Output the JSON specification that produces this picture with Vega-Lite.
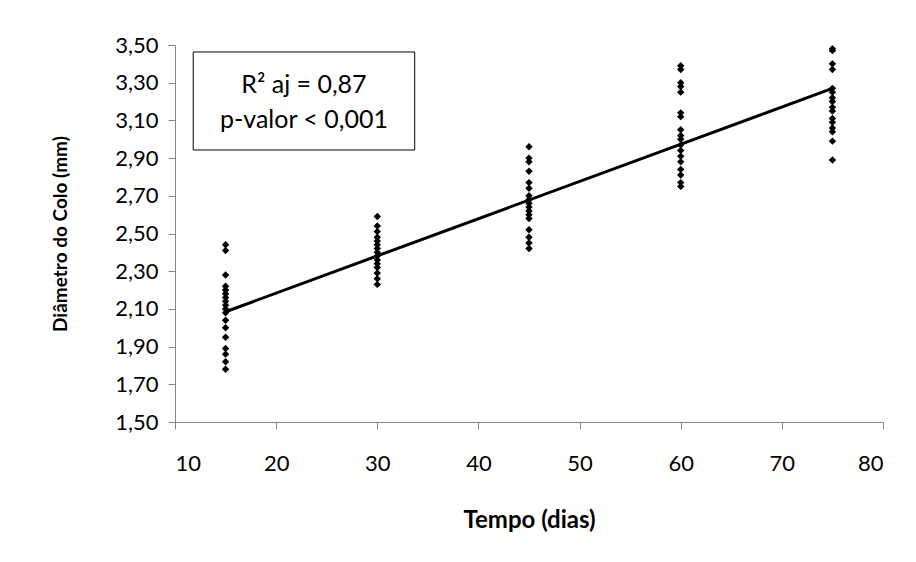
{
  "$schema": "https://vega.github.io/schema/vega-lite/v6.json",
  "width": 708,
  "height": 377,
  "autosize": {"type": "none"},
  "padding": {"left": 175, "top": 45, "right": 33, "bottom": 140},
  "background": "white",
  "config": {
    "view": {"stroke": null}
  },
  "datasets": {
    "pts": [
      {"dias": 15, "diam": 2.44}, {"dias": 15, "diam": 2.41}, {"dias": 15, "diam": 2.28}, {"dias": 15, "diam": 2.22},
      {"dias": 15, "diam": 2.20}, {"dias": 15, "diam": 2.18}, {"dias": 15, "diam": 2.16}, {"dias": 15, "diam": 2.14},
      {"dias": 15, "diam": 2.12}, {"dias": 15, "diam": 2.10}, {"dias": 15, "diam": 2.08}, {"dias": 15, "diam": 2.04},
      {"dias": 15, "diam": 2.00}, {"dias": 15, "diam": 1.95}, {"dias": 15, "diam": 1.89}, {"dias": 15, "diam": 1.86},
      {"dias": 15, "diam": 1.82}, {"dias": 15, "diam": 1.78},
      {"dias": 30, "diam": 2.59}, {"dias": 30, "diam": 2.54}, {"dias": 30, "diam": 2.51}, {"dias": 30, "diam": 2.48},
      {"dias": 30, "diam": 2.46}, {"dias": 30, "diam": 2.44}, {"dias": 30, "diam": 2.42}, {"dias": 30, "diam": 2.40},
      {"dias": 30, "diam": 2.38}, {"dias": 30, "diam": 2.36}, {"dias": 30, "diam": 2.34}, {"dias": 30, "diam": 2.32},
      {"dias": 30, "diam": 2.29}, {"dias": 30, "diam": 2.26}, {"dias": 30, "diam": 2.23},
      {"dias": 45, "diam": 2.96}, {"dias": 45, "diam": 2.90}, {"dias": 45, "diam": 2.88}, {"dias": 45, "diam": 2.83},
      {"dias": 45, "diam": 2.77}, {"dias": 45, "diam": 2.74}, {"dias": 45, "diam": 2.70}, {"dias": 45, "diam": 2.68},
      {"dias": 45, "diam": 2.66}, {"dias": 45, "diam": 2.64}, {"dias": 45, "diam": 2.62}, {"dias": 45, "diam": 2.60},
      {"dias": 45, "diam": 2.58}, {"dias": 45, "diam": 2.52}, {"dias": 45, "diam": 2.48}, {"dias": 45, "diam": 2.45},
      {"dias": 45, "diam": 2.42},
      {"dias": 60, "diam": 3.39}, {"dias": 60, "diam": 3.37}, {"dias": 60, "diam": 3.30}, {"dias": 60, "diam": 3.28},
      {"dias": 60, "diam": 3.25}, {"dias": 60, "diam": 3.14}, {"dias": 60, "diam": 3.12}, {"dias": 60, "diam": 3.05},
      {"dias": 60, "diam": 3.02}, {"dias": 60, "diam": 3.00}, {"dias": 60, "diam": 2.97}, {"dias": 60, "diam": 2.94},
      {"dias": 60, "diam": 2.91}, {"dias": 60, "diam": 2.88}, {"dias": 60, "diam": 2.84}, {"dias": 60, "diam": 2.81},
      {"dias": 60, "diam": 2.77}, {"dias": 60, "diam": 2.75},
      {"dias": 75, "diam": 3.48}, {"dias": 75, "diam": 3.47}, {"dias": 75, "diam": 3.40}, {"dias": 75, "diam": 3.37},
      {"dias": 75, "diam": 3.27}, {"dias": 75, "diam": 3.25}, {"dias": 75, "diam": 3.22}, {"dias": 75, "diam": 3.20},
      {"dias": 75, "diam": 3.17}, {"dias": 75, "diam": 3.15}, {"dias": 75, "diam": 3.11}, {"dias": 75, "diam": 3.09},
      {"dias": 75, "diam": 3.06}, {"dias": 75, "diam": 3.04}, {"dias": 75, "diam": 2.99}, {"dias": 75, "diam": 2.89}
    ],
    "fit": [
      {"dias": 15, "diam": 2.085}, {"dias": 75, "diam": 3.27}
    ],
    "box": [
      {"dias": 11.8, "x2": 33.7, "diam": 3.463, "y2": 2.943}
    ],
    "txt": [
      {"dias": 22.75, "diam": 3.29, "label": "R² aj = 0,87"},
      {"dias": 22.75, "diam": 3.10, "label": "p-valor < 0,001"}
    ]
  },
  "encoding": {
    "x": {"field": "dias", "type": "quantitative", "scale": {"domain": [10, 80], "nice": false, "zero": false},
      "axis": {"values": [10, 20, 30, 40, 50, 60, 70, 80], "title": "Tempo (dias)", "grid": false,
        "domainColor": "#868686", "tickColor": "#868686", "tickSize": 7, "labelColor": "#000", "titleColor": "#000",
        "labelFont": "Lato", "titleFont": "Lato", "labelFontSize": 22, "titleFontSize": 24, "titleFontWeight": "bold",
        "labelPadding": 24, "titlePadding": 34, "labelOverlap": false}},
    "y": {"field": "diam", "type": "quantitative", "scale": {"domain": [1.5, 3.5], "nice": false, "zero": false},
      "axis": {"values": [1.5, 1.7, 1.9, 2.1, 2.3, 2.5, 2.7, 2.9, 3.1, 3.3, 3.5], "tickCount": 11, "title": "Diâmetro do Colo (mm)", "grid": false,
        "domainColor": "#868686", "tickColor": "#868686", "tickSize": 7, "labelColor": "#000", "titleColor": "#000",
        "labelFont": "Lato", "titleFont": "Lato", "labelFontSize": 22, "titleFontSize": 19, "titleFontWeight": "bold",
        "labelExpr": "replace(format(datum.value, '.2f'), '.', ',')", "labelPadding": 10, "titlePadding": 44, "labelOverlap": false}}
  },
  "layer": [
    {
      "data": {"name": "pts"},
      "mark": {"type": "point", "shape": "diamond", "filled": true, "color": "#000", "size": 55, "opacity": 1}
    },
    {
      "data": {"name": "fit"},
      "mark": {"type": "line", "color": "#000", "strokeWidth": 3}
    },
    {
      "data": {"name": "box"},
      "mark": {"type": "rect", "fill": "white", "stroke": "#000", "strokeWidth": 1},
      "encoding": {
        "x2": {"field": "x2"},
        "y2": {"field": "y2"}
      }
    },
    {
      "data": {"name": "txt"},
      "mark": {"type": "text", "font": "Lato", "fontSize": 25, "color": "#000", "align": "center", "baseline": "middle"},
      "encoding": {
        "text": {"field": "label"}
      }
    }
  ]
}
